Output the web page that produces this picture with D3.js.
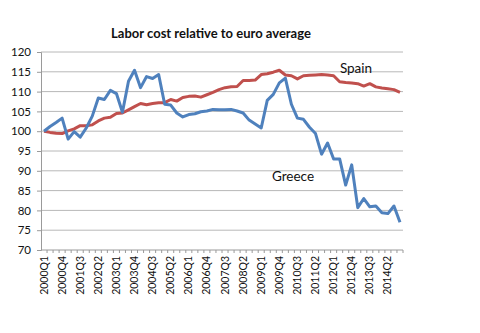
<!DOCTYPE html>
<html>
<head>
<meta charset="utf-8">
<script src="https://cdn.jsdelivr.net/npm/d3@7"></script>
<style>
  body { margin: 0; background: #fff; }
  text { font-family: Lato, "Open Sans", sans-serif; }
</style>
</head>
<body>
<div id="chart"></div>
<script>
// quarters 2000Q1 .. 2014Q4
const years = d3.range(2000, 2015)
const quarters = ["Q1", "Q2", "Q3", "Q4"]
const categories = years.flatMap(y => quarters.map(q => y + q))

// every third quarter gets a label
const tick_labels = ["2000Q1","2000Q4","2001Q3","2002Q2","2003Q1","2003Q4","2004Q3",
  "2005Q2","2006Q1","2006Q4","2007Q3","2008Q2","2009Q1","2009Q4","2010Q3",
  "2011Q2","2012Q1","2012Q4","2013Q3","2014Q2"]

const y_ticks = [70, 75, 80, 85, 90, 95, 100, 105, 110, 115, 120]

const greece = [100, 101.2, 102.2, 103.3, 98, 99.9, 98.5, 100.8, 103.8, 108.4,
  108, 110.3, 109.5, 104.8, 112.6, 115.4, 111, 113.8, 113.3, 114.3,
  106.8, 106.6, 104.6, 103.6, 104.2, 104.4, 104.9, 105.1, 105.5, 105.4,
  105.4, 105.5, 105.1, 104.6, 102.8, 101.8, 100.8, 107.8, 109.3, 112.2,
  113.4, 106.8, 103.3, 103, 101, 99.4, 94.2, 97, 93, 93,
  86.4, 91.5, 80.7, 83, 80.9, 81.1, 79.4, 79.2, 81.1, 77]

const spain = [100, 99.7, 99.5, 99.4, 100.1, 100.6, 101.4, 101.4, 101.6, 102.6,
  103.3, 103.5, 104.5, 104.6, 105.4, 106.2, 107.0, 106.7, 107.0, 107.2,
  107.2, 108.0, 107.6, 108.5, 108.8, 108.9, 108.6, 109.2, 109.8, 110.5,
  111.0, 111.2, 111.3, 112.8, 112.8, 112.9, 114.3, 114.5, 114.9, 115.4,
  114.2, 114.0, 113.2, 114.0, 114.1, 114.2, 114.3, 114.2, 114.0, 112.5,
  112.3, 112.2, 112.0, 111.4, 112.0, 111.2, 110.9, 110.7, 110.5, 109.8]

const series = [
  {name: "Spain", values: spain, color: "#c0504d", label_at: [356, 73]},
  {name: "Greece", values: greece, color: "#4f81bd", label_at: [293, 181]}
]

const width = 480, height = 333
const margin = {top: 52, right: 77, bottom: 83, left: 41}

const svg = d3.select("#chart").append("svg")
  .attr("width", width)
  .attr("height", height)

const x = d3.scaleBand()
  .domain(categories)
  .range([margin.left, width - margin.right])

const y = d3.scaleLinear()
  .domain([70, 120])
  .range([height - margin.bottom, margin.top])

// gridlines
svg.append("g")
  .selectAll("line")
  .data(y_ticks.slice(1))
  .join("line")
    .attr("x1", margin.left)
    .attr("x2", width - margin.right)
    .attr("y1", d => y(d))
    .attr("y2", d => y(d))
    .attr("stroke", "#b8b8b8")
    .attr("stroke-width", 1)

// y axis
const y_axis = svg.append("g")
  .attr("transform", `translate(${margin.left},0)`)
  .call(d3.axisLeft(y).tickValues(y_ticks).tickSize(4).tickPadding(6))
y_axis.select(".domain").attr("stroke", "#9a9a9a")
y_axis.selectAll(".tick line").attr("stroke", "#9a9a9a")
y_axis.selectAll(".tick text")
  .attr("font-size", 11.5)
  .attr("fill", "#111")

// x axis: little tick between each quarter, labels every third
const x_axis = svg.append("g")
  .attr("transform", `translate(0,${height - margin.bottom})`)
x_axis.append("line")
  .attr("x1", margin.left)
  .attr("x2", width - margin.right)
  .attr("stroke", "#9a9a9a")
x_axis.selectAll("line.minor")
  .data(categories)
  .join("line")
    .attr("class", "minor")
    .attr("x1", d => x(d) + x.bandwidth())
    .attr("x2", d => x(d) + x.bandwidth())
    .attr("y1", 0)
    .attr("y2", 3)
    .attr("stroke", "#9a9a9a")
x_axis.selectAll("text")
  .data(tick_labels)
  .join("text")
    .attr("transform", d => `translate(${x(d) + x.bandwidth() / 2 + 3.5},6) rotate(-90)`)
    .attr("text-anchor", "end")
    .attr("font-size", 10.5)
    .attr("fill", "#111")
    .text(d => d)

// lines
const line = d3.line()
  .x((d, i) => x(categories[i]) + x.bandwidth() / 2)
  .y(d => y(d))

svg.append("g")
  .selectAll("path")
  .data(series)
  .join("path")
    .attr("d", d => line(d.values))
    .attr("fill", "none")
    .attr("stroke", d => d.color)
    .attr("stroke-width", 3)
    .attr("stroke-linejoin", "round")

svg.append("g")
  .selectAll("text")
  .data(series)
  .join("text")
    .attr("x", d => d.label_at[0])
    .attr("y", d => d.label_at[1])
    .attr("text-anchor", "middle")
    .attr("font-size", 13.5)
    .attr("fill", "#111")
    .text(d => d.name)

// title
svg.append("text")
  .attr("x", 211)
  .attr("y", 38)
  .attr("text-anchor", "middle")
  .attr("font-size", 13)
  .attr("font-weight", "bold")
  .attr("fill", "#111")
  .text("Labor cost relative to euro average")
</script>
</body>
</html>
